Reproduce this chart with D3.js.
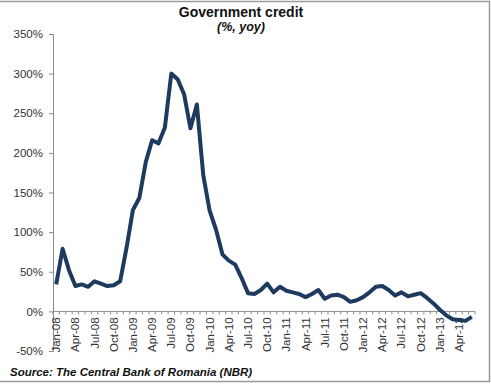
<!DOCTYPE html>
<html>
<head>
<meta charset="utf-8">
<script src="https://cdn.jsdelivr.net/npm/d3@7.9.0/dist/d3.min.js"></script>
<style>
  body { margin: 0; background: #fff; }
  svg { display: block; font-family: "Liberation Sans", Arial, sans-serif; }
</style>
</head>
<body>
<svg id="chart" width="491" height="384"></svg>
<script>
// months Jan-08 .. Jun-13
const months = d3.timeMonth.range(new Date(2008, 0, 1), new Date(2013, 6, 1));
const monthLabel = d3.timeFormat("%b-%y");

// government credit, % yoy
const values = [
  34, 79, 52, 32, 34, 31, 38, 35, 32, 33, 38, 80,
  128, 143, 188, 216, 212, 232, 300, 293, 274, 231, 261, 172,
  127, 103, 72, 64, 59, 42, 23, 22, 27, 35, 24, 31,
  26, 24, 22, 18, 22, 27, 16, 20, 21, 18, 12, 14,
  18, 24, 31, 32, 27, 20, 24, 19, 21, 23, 17, 10,
  2, -5, -10, -11, -12, -7
];

const yTicks = [-50, 0, 50, 100, 150, 200, 250, 300, 350];

const title = "Government credit";
const subtitle = "(%, yoy)";
const source = "Source: The Central Bank of Romania (NBR)";

const svg = d3.select("#chart");
const W = 491, H = 384;
const margin = { left: 53, right: 16, top: 34, bottom: 33 };

// frame
svg.append("rect")
  .attr("x", -2).attr("y", 1.5)
  .attr("width", 491.5).attr("height", 380)
  .attr("fill", "none")
  .attr("stroke", "#9a9a9a")
  .attr("stroke-width", 1.5);

const x = d3.scaleBand()
  .domain(months.map((d) => monthLabel(d)))
  .range([margin.left, W - margin.right])
  .padding(0);

const y = d3.scaleLinear()
  .domain([-50, 350])
  .range([H - margin.bottom, margin.top]);

// titles
svg.append("text")
  .attr("x", 241).attr("y", 17)
  .attr("text-anchor", "middle")
  .style("font-size", "14px").style("font-weight", "bold")
  .attr("fill", "#111")
  .text(title);

svg.append("text")
  .attr("x", 241).attr("y", 31)
  .attr("text-anchor", "middle")
  .style("font-size", "12.5px").style("font-weight", "bold").style("font-style", "italic")
  .attr("fill", "#111")
  .text(subtitle);

// y axis
const yAxis = svg.append("g")
  .attr("transform", `translate(${margin.left},0)`)
  .call(d3.axisLeft(y).tickValues(yTicks).tickSize(4).tickPadding(6)
    .tickFormat((d) => d + "%"));
yAxis.selectAll("path, line").attr("stroke", "#8a8a8a");
yAxis.selectAll("text")
  .style("font-size", "11.5px")
  .attr("fill", "#333");

// x axis at 0%, ticks on category boundaries
const y0 = y(0);
const xg = svg.append("g");
xg.append("line")
  .attr("x1", margin.left).attr("x2", W - margin.right)
  .attr("y1", y0).attr("y2", y0)
  .attr("stroke", "#8a8a8a");

const bounds = x.domain().map((d) => x(d)).concat([x.range()[1]]);
xg.selectAll("line.tk")
  .data(bounds)
  .join("line")
  .attr("class", "tk")
  .attr("x1", (d) => d).attr("x2", (d) => d)
  .attr("y1", y0).attr("y2", y0 + 3)
  .attr("stroke", "#8a8a8a");

xg.selectAll("text")
  .data(months.filter((d) => d.getMonth() % 3 === 0))
  .join("text")
  .attr("transform", (d) => {
    const cx = x(monthLabel(d)) + x.bandwidth() / 2;
    return `translate(${cx + 4},${y0 + 6}) rotate(-90)`;
  })
  .attr("text-anchor", "end")
  .style("font-size", "11.5px")
  .attr("fill", "#333")
  .text((d) => monthLabel(d));

// line
const line = d3.line()
  .x((d, i) => x(monthLabel(months[i])) + x.bandwidth() / 2)
  .y((d) => y(d));

svg.append("path")
  .datum(values)
  .attr("d", line)
  .attr("fill", "none")
  .attr("stroke", "#1e3a5f")
  .attr("stroke-width", 4)
  .attr("stroke-linejoin", "round");

// source
svg.append("text")
  .attr("x", 10).attr("y", 376)
  .style("font-size", "11.5px").style("font-weight", "bold").style("font-style", "italic")
  .attr("fill", "#111")
  .text(source);
</script>
</body>
</html>
